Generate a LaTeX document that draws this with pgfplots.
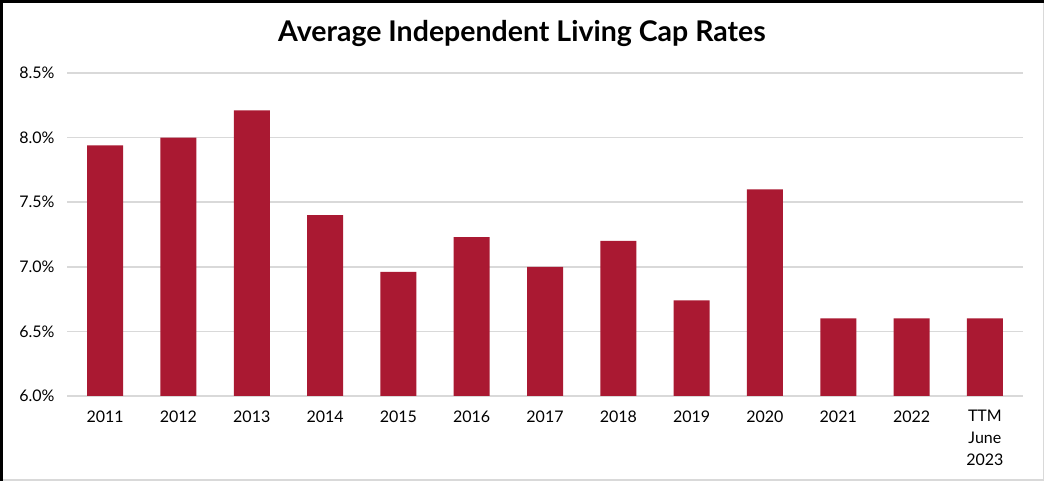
\documentclass[border=0pt]{standalone}
\usepackage{fontspec}
\setmainfont{Lato}
\usepackage{pgfplots}
\pgfplotsset{compat=1.18}
\definecolor{barred}{RGB}{170,25,50}
\definecolor{gridgray}{RGB}{217,217,217}
\begin{document}
\begin{tikzpicture}
\useasboundingbox (0pt,0pt) rectangle (1044pt,481pt);
\fill[white] (0pt,0pt) rectangle (1044pt,481pt);
\draw[gridgray, line width=1.5pt] (0pt,0.75pt) -- (1043.25pt,0.75pt) -- (1043.25pt,481pt);
\draw[black, line width=3pt] (1.5pt,0pt) -- (1.5pt,479.5pt) -- (1044pt,479.5pt);
\node[font=\fontsize{28.5}{32}\selectfont\bfseries] at (522pt,448pt) {Average Independent Living Cap Rates};
\begin{axis}[
  at={(67pt,85pt)}, anchor=south west,
  scale only axis, width=956pt, height=323pt,
  xmin=-0.52, xmax=12.52, ymin=6, ymax=8.5,
  axis line style={draw=none},
  major tick length=0,
  ymajorgrids, grid style={gridgray, line width=1.5pt},
  ytick={6,6.5,7,7.5,8,8.5},
  yticklabels={6.0\%,6.5\%,7.0\%,7.5\%,8.0\%,8.5\%},
  yticklabel style={font=\fontsize{16}{19}\selectfont, anchor=east, xshift=-9pt},
  xtick={0,...,12},
  xticklabels={2011,2012,2013,2014,2015,2016,2017,2018,2019,2020,2021,2022,{TTM\\June\\2023}},
  xticklabel style={font=\fontsize{16}{22}\selectfont, align=center, anchor=north, yshift=-11pt},
  ybar, bar width=36pt,
]
\addplot[fill=barred, draw=none] coordinates {
  (0,7.94) (1,8.0) (2,8.21) (3,7.40) (4,6.96) (5,7.23) (6,7.0)
  (7,7.2) (8,6.74) (9,7.6) (10,6.6) (11,6.6) (12,6.6)
};
\end{axis}
\end{tikzpicture}
\end{document}
